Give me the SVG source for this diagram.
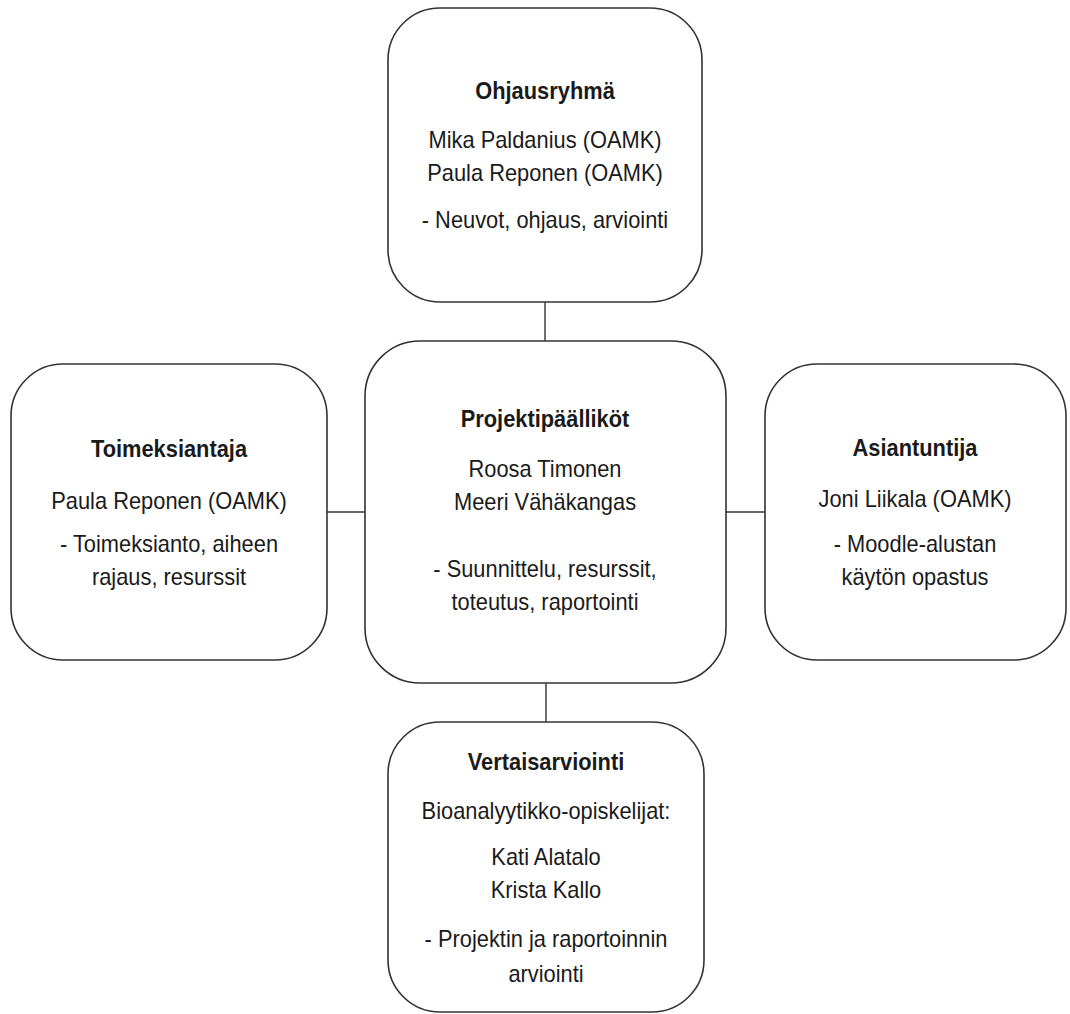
<svg xmlns="http://www.w3.org/2000/svg" width="1070" height="1014" viewBox="0 0 1070 1014">
<style>
.box{fill:#fff;stroke:#333;stroke-width:1.6}
.ln{stroke:#333;stroke-width:1.4;fill:none}
text{font-family:"Liberation Sans",Arial,sans-serif;font-size:23px;fill:#1a1a1a;text-anchor:middle}
.t{font-weight:bold}
</style>
<rect width="1070" height="1014" fill="#fff"/>
<g id="connectors">
<line class="ln" x1="545" y1="302" x2="545" y2="341"/>
<line class="ln" x1="327" y1="512" x2="365" y2="512"/>
<line class="ln" x1="726" y1="512" x2="765" y2="512"/>
<line class="ln" x1="546" y1="683" x2="546" y2="722"/>
</g>
<g id="ohjausryhma">
<rect class="box" x="388" y="8" width="314" height="294" rx="52"/>
<g transform="translate(545,0) scale(0.95,1)">
<text class="t" x="0" y="99">Ohjausryhmä</text>
<text x="0" y="148">Mika Paldanius (OAMK)</text>
<text x="0" y="181">Paula Reponen (OAMK)</text>
<text x="0" y="228">- Neuvot, ohjaus, arviointi</text>
</g>
</g>
<g id="toimeksiantaja">
<rect class="box" x="11" y="364" width="316" height="296" rx="52"/>
<g transform="translate(169,0) scale(0.95,1)">
<text class="t" x="0" y="457">Toimeksiantaja</text>
<text x="0" y="509">Paula Reponen (OAMK)</text>
<text x="0" y="552">- Toimeksianto, aiheen</text>
<text x="0" y="585">rajaus, resurssit</text>
</g>
</g>
<g id="projektipaallikot">
<rect class="box" x="365" y="341" width="361" height="342" rx="55"/>
<g transform="translate(545,0) scale(0.95,1)">
<text class="t" x="0" y="427">Projektipäälliköt</text>
<text x="0" y="477">Roosa Timonen</text>
<text x="0" y="510">Meeri Vähäkangas</text>
<text x="0" y="577">- Suunnittelu, resurssit,</text>
<text x="0" y="610">toteutus, raportointi</text>
</g>
</g>
<g id="asiantuntija">
<rect class="box" x="765" y="364" width="301" height="296" rx="52"/>
<g transform="translate(915,0) scale(0.95,1)">
<text class="t" x="0" y="456">Asiantuntija</text>
<text x="0" y="507">Joni Liikala (OAMK)</text>
<text x="0" y="552">- Moodle-alustan</text>
<text x="0" y="585">käytön opastus</text>
</g>
</g>
<g id="vertaisarviointi">
<rect class="box" x="388" y="722" width="316" height="290" rx="52"/>
<g transform="translate(546,0) scale(0.95,1)">
<text class="t" x="0" y="770">Vertaisarviointi</text>
<text x="0" y="819">Bioanalyytikko-opiskelijat:</text>
<text x="0" y="865">Kati Alatalo</text>
<text x="0" y="898">Krista Kallo</text>
<text x="0" y="947">- Projektin ja raportoinnin</text>
<text x="0" y="982">arviointi</text>
</g>
</g>
</svg>
